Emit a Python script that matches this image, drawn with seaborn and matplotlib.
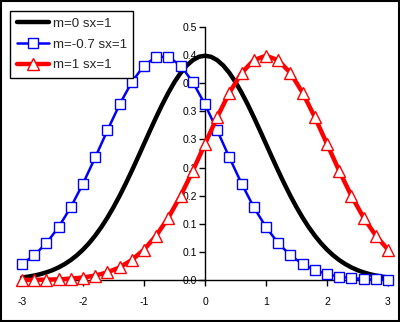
import numpy as np
import pandas as pd
import matplotlib
matplotlib.use("Agg")
import matplotlib.pyplot as plt
import seaborn as sns
from matplotlib.patches import Rectangle

sns.set_style("white")
plt.rcParams['font.family'] = ['Liberation Sans', 'DejaVu Sans']

# ---- data ----
x_fine = [-3.0, -2.9, -2.8, -2.7, -2.6, -2.5, -2.4, -2.3, -2.2, -2.1,
          -2.0, -1.9, -1.8, -1.7, -1.6, -1.5, -1.4, -1.3, -1.2, -1.1,
          -1.0, -0.9, -0.8, -0.7, -0.6, -0.5, -0.4, -0.3, -0.2, -0.1,
          0.0, 0.1, 0.2, 0.3, 0.4, 0.5, 0.6, 0.7, 0.8, 0.9,
          1.0, 1.1, 1.2, 1.3, 1.4, 1.5, 1.6, 1.7, 1.8, 1.9,
          2.0, 2.1, 2.2, 2.3, 2.4, 2.5, 2.6, 2.7, 2.8, 2.9, 3.0]
y_m0 = [0.0044, 0.0060, 0.0079, 0.0104, 0.0136, 0.0175, 0.0224, 0.0283, 0.0355, 0.0440,
        0.0540, 0.0656, 0.0790, 0.0940, 0.1109, 0.1295, 0.1497, 0.1714, 0.1942, 0.2179,
        0.2420, 0.2661, 0.2897, 0.3123, 0.3332, 0.3521, 0.3683, 0.3814, 0.3910, 0.3970,
        0.3989, 0.3970, 0.3910, 0.3814, 0.3683, 0.3521, 0.3332, 0.3123, 0.2897, 0.2661,
        0.2420, 0.2179, 0.1942, 0.1714, 0.1497, 0.1295, 0.1109, 0.0940, 0.0790, 0.0656,
        0.0540, 0.0440, 0.0355, 0.0283, 0.0224, 0.0175, 0.0136, 0.0104, 0.0079, 0.0060, 0.0044]

x_coarse = [-3.0, -2.8, -2.6, -2.4, -2.2, -2.0, -1.8, -1.6, -1.4, -1.2,
            -1.0, -0.8, -0.6, -0.4, -0.2, 0.0, 0.2, 0.4, 0.6, 0.8,
            1.0, 1.2, 1.4, 1.6, 1.8, 2.0, 2.2, 2.4, 2.6, 2.8, 3.0]
y_mneg07 = [0.0283, 0.0440, 0.0656, 0.0940, 0.1295, 0.1714, 0.2179, 0.2661, 0.3123, 0.3521,
            0.3814, 0.3970, 0.3970, 0.3814, 0.3521, 0.3123, 0.2661, 0.2179, 0.1714, 0.1295,
            0.0940, 0.0656, 0.0440, 0.0283, 0.0175, 0.0104, 0.0060, 0.0033, 0.0017, 0.0009, 0.0004]
y_m1 = [0.0001, 0.0003, 0.0006, 0.0012, 0.0024, 0.0044, 0.0079, 0.0136, 0.0224, 0.0355,
        0.0540, 0.0790, 0.1109, 0.1497, 0.1942, 0.2420, 0.2897, 0.3332, 0.3683, 0.3910,
        0.3989, 0.3910, 0.3683, 0.3332, 0.2897, 0.2420, 0.1942, 0.1497, 0.1109, 0.0790, 0.0540]

labels = ["m=0 sx=1", "m=-0.7 sx=1", "m=1 sx=1"]
x_ticks = [-3, -2, -1, 0, 1, 2, 3]
y_ticks = [0.0, 0.05, 0.10, 0.15, 0.20, 0.25, 0.30, 0.35, 0.40, 0.45]

# ---- figure ----
fig = plt.figure(figsize=(4.0, 3.22), dpi=100)
fig.patch.set_facecolor("white")
ax = fig.add_axes([22/400, 42/322, 366/400, 253/322])
ax.set_facecolor("white")

df0 = pd.DataFrame({"x": x_fine, "y": y_m0})
df1 = pd.DataFrame({"x": x_coarse, "y": y_mneg07})
df2 = pd.DataFrame({"x": x_coarse, "y": y_m1})

sns.lineplot(data=df0, x="x", y="y", ax=ax, color="black", linewidth=3.2,
             label=labels[0], clip_on=False, zorder=3)
sns.lineplot(data=df1, x="x", y="y", ax=ax, color="#0000FF", linewidth=1.8,
             marker="s", markersize=7, markerfacecolor="white",
             markeredgecolor="#0000FF", markeredgewidth=1.0,
             label=labels[1], clip_on=False, zorder=4)
sns.lineplot(data=df2, x="x", y="y", ax=ax, color="#FF0000", linewidth=3.2,
             marker="^", markersize=8, markerfacecolor="white",
             markeredgecolor="#FF0000", markeredgewidth=1.0,
             label=labels[2], clip_on=False, zorder=5)

ax.set_xlim(-3, 3)
ax.set_ylim(0, 0.45)
ax.set_xlabel("")
ax.set_ylabel("")

ax.spines['top'].set_visible(False)
ax.spines['right'].set_visible(False)
ax.spines['left'].set_position(('data', 0))
ax.spines['left'].set_color("black")
ax.spines['bottom'].set_color("black")
ax.spines['left'].set_linewidth(1.0)
ax.spines['bottom'].set_linewidth(1.0)

ax.set_xticks(x_ticks)
ax.set_xticklabels([str(t) for t in x_ticks])
ax.set_yticks(y_ticks)
ax.set_yticklabels([f"{t+1e-9:.1f}" for t in y_ticks])
ax.tick_params(axis='both', direction='out', length=4, width=1, color="black",
               labelsize=7.5, labelcolor="black", pad=2,
               left=True, bottom=True)
ax.tick_params(axis='x', pad=8)
ax.grid(False)

leg = ax.legend(loc="upper left", bbox_to_anchor=(10/400, 1 - 11/322),
                bbox_transform=fig.transFigure, frameon=True, fancybox=False,
                edgecolor="black", framealpha=1, fontsize=9.6,
                handlelength=2.4, handletextpad=0.3, borderpad=0.5,
                labelspacing=0.62, borderaxespad=0)
leg.get_frame().set_linewidth(1.0)

fig.patches.append(Rectangle((0.002, 0.004), 0.995, 0.993, transform=fig.transFigure,
                             fill=False, edgecolor="black", linewidth=1.5))

fig.savefig("out.png", dpi=100)
